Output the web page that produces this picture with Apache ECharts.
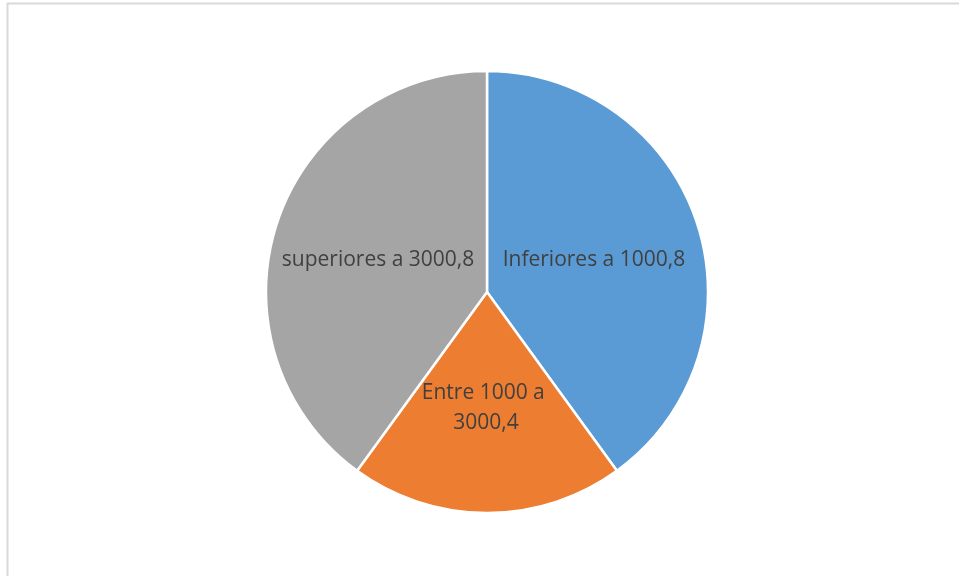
<!DOCTYPE html>
<html>
<head>
<meta charset="utf-8">
<script src="https://cdn.jsdelivr.net/npm/echarts@6/dist/echarts.min.js"></script>
<style>
  html, body { margin: 0; padding: 0; background: #ffffff; }
  #chart { width: 959px; height: 576px; }
</style>
</head>
<body>
<div id="chart"></div>
<script>
// Income brackets and their counts
const categories = ['Inferiores a 1000', 'Entre 1000 a 3000', 'superiores a 3000'];
const values = [8, 4, 8];
const colors = ['#5b9bd5', '#ed7d31', '#a5a5a5'];

const chart = echarts.init(document.getElementById('chart'));

const data = categories.map((name, i) => {
  const item = { name: name, value: values[i], itemStyle: { color: colors[i] } };
  if (i === 1) {
    item.label = { width: 140, overflow: 'break' };
  }
  return item;
});

chart.setOption({
  animation: false,
  backgroundColor: '#ffffff',
  graphic: [{
    type: 'rect',
    shape: { x: 7.5, y: 3.5, width: 1000, height: 700 },
    style: { fill: 'none', stroke: '#d9d9d9', lineWidth: 2 },
    silent: true
  }],
  series: [{
    type: 'pie',
    center: [487, 292],
    radius: [0, 221],
    startAngle: 90,
    clockwise: true,
    data: data,
    itemStyle: { borderColor: '#ffffff', borderWidth: 2.5 },
    label: {
      show: true,
      position: 'inside',
      formatter: '{b},{c}',
      color: '#404040',
      fontFamily: 'Open Sans',
      fontSize: 21,
      lineHeight: 30,
      offset: [-1, 3]
    },
    labelLine: { show: false },
    emphasis: { disabled: true }
  }]
});
</script>
</body>
</html>
